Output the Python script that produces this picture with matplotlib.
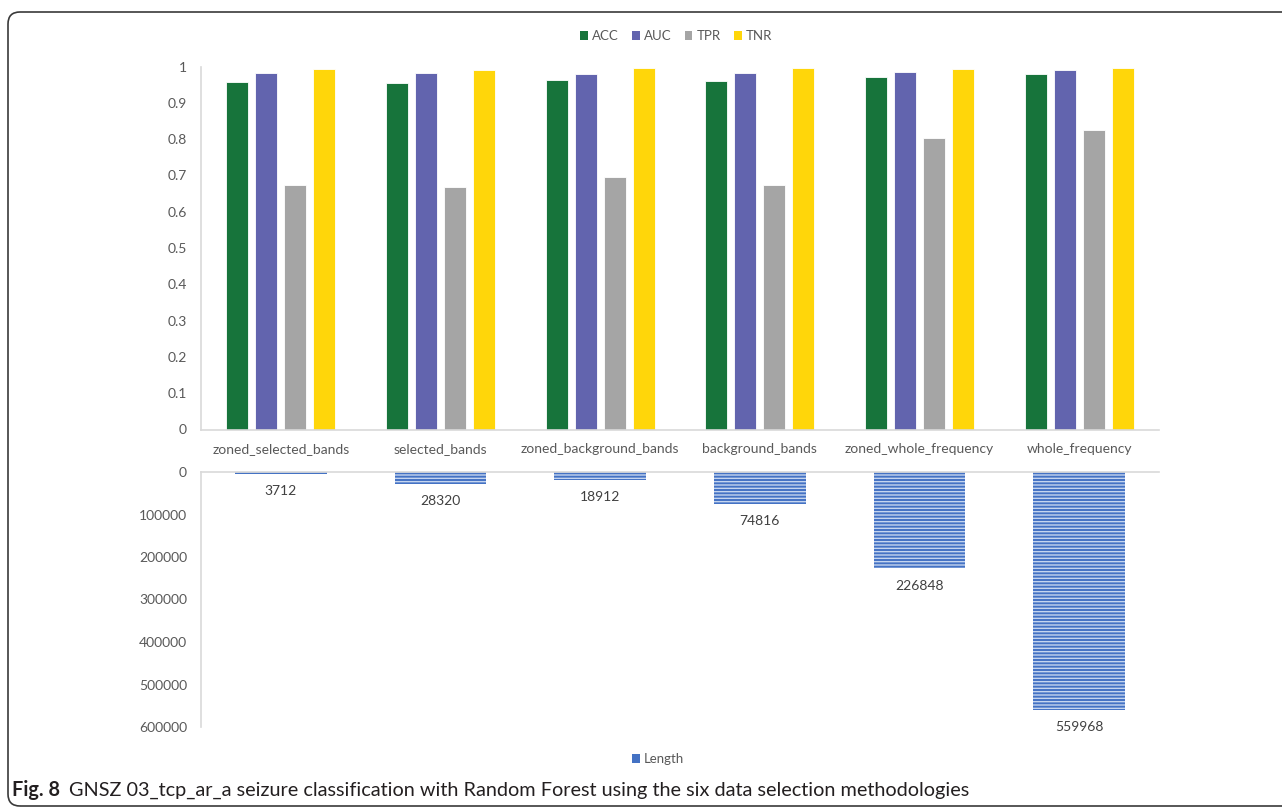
import numpy as np
import matplotlib
matplotlib.use("Agg")
import matplotlib.pyplot as plt
from matplotlib.patches import FancyBboxPatch, Patch
from matplotlib.transforms import IdentityTransform

categories = ["zoned_selected_bands", "selected_bands", "zoned_background_bands",
              "background_bands", "zoned_whole_frequency", "whole_frequency"]
acc = [0.958, 0.955, 0.962, 0.960, 0.971, 0.978]
auc = [0.982, 0.982, 0.979, 0.982, 0.986, 0.990]
tpr = [0.673, 0.668, 0.695, 0.673, 0.803, 0.825]
tnr = [0.993, 0.990, 0.995, 0.995, 0.993, 0.995]
length = [3712, 28320, 18912, 74816, 226848, 559968]
top_ticks = [0, 0.1, 0.2, 0.3, 0.4, 0.5, 0.6, 0.7, 0.8, 0.9, 1]
top_tick_labels = ["0", "0.1", "0.2", "0.3", "0.4", "0.5", "0.6", "0.7", "0.8", "0.9", "1"]
bottom_ticks = [0, 100000, 200000, 300000, 400000, 500000, 600000]
caption_bold = "Fig. 8"
caption_text = "GNSZ 03_tcp_ar_a seizure classification with Random Forest using the six data selection methodologies"

plt.rcParams['font.family'] = ['Lato', 'DejaVu Sans']
plt.rcParams['hatch.linewidth'] = 1.0

W, H = 1282, 810
fig = plt.figure(figsize=(W / 100, H / 100), dpi=100)

axis_col = "#D9D9D9"
txt_col = "#595959"

def fx(px):
    return px / W

def fy(py):
    return 1 - py / H

left, right = fx(201), fx(1159)
ax1 = fig.add_axes([left, fy(429.5), right - left, fy(66.5) - fy(429.5)])
ax2 = fig.add_axes([left, fy(727), right - left, fy(472) - fy(727)])

x = np.arange(len(categories))
series = [("ACC", acc, "#17743B"), ("AUC", auc, "#6264AE"),
          ("TPR", tpr, "#A5A5A5"), ("TNR", tnr, "#FFD60A")]
pitch, bw = 0.182, 0.138
for i, (name, vals, col) in enumerate(series):
    ax1.bar(x + (i - 1.5) * pitch, vals, bw, color=col, edgecolor="white",
            linewidth=0.6, label=name, zorder=2)

ax1.set_xlim(-0.5, len(categories) - 0.5)
ax1.set_ylim(0, 1)
ax1.set_yticks(top_ticks)
ax1.set_yticklabels(top_tick_labels)
ax1.set_xticks(x)
ax1.set_xticklabels(categories)
for s in ["top", "right"]:
    ax1.spines[s].set_visible(False)
for s in ["left", "bottom"]:
    ax1.spines[s].set_color(axis_col)
    ax1.spines[s].set_linewidth(1.2)
ax1.tick_params(axis="both", length=0, colors=txt_col, labelsize=10)
ax1.tick_params(axis="y", pad=10)
ax1.tick_params(axis="x", pad=10)

bars = ax2.bar(x, length, 0.575, color="#4472C4", edgecolor="#C5D5EF",
               linewidth=0, hatch="-----", label="Length", zorder=2)
ax2.set_xlim(-0.5, len(categories) - 0.5)
ax2.set_ylim(600000, 0)
ax2.set_yticks(bottom_ticks)
ax2.set_yticklabels([str(t) for t in bottom_ticks])
ax2.set_xticks([])
for s in ["bottom", "right"]:
    ax2.spines[s].set_visible(False)
for s in ["left", "top"]:
    ax2.spines[s].set_color(axis_col)
    ax2.spines[s].set_linewidth(1.2)
ax2.tick_params(axis="both", length=0, colors=txt_col, labelsize=10)
ax2.tick_params(axis="y", pad=10)
for xi, v in zip(x, length):
    ax2.annotate(str(v), (xi, v), xytext=(0, -12.5), textcoords="offset points",
                 ha="center", va="center", fontsize=10, color="#404040")

handles1 = [Patch(facecolor=c, label=n) for n, _, c in series]
fig.legend(handles=handles1, loc="center", bbox_to_anchor=(fx(676), fy(36)),
           ncol=4, frameon=False, fontsize=9.5, handlelength=0.6, handleheight=0.6,
           handletextpad=0.3, columnspacing=1.0, labelcolor=txt_col)
fig.legend(handles=[Patch(facecolor="#4472C4", label="Length")], loc="center",
           bbox_to_anchor=(fx(658), fy(759)), frameon=False, fontsize=9.5,
           handlelength=0.6, handleheight=0.6, handletextpad=0.3, labelcolor=txt_col)

border = FancyBboxPatch((8, 4), 1320, H - 16, boxstyle="round,pad=0,rounding_size=12",
                        transform=IdentityTransform(), fill=False, edgecolor="#3a3a3a",
                        linewidth=1.2)
fig.patches.append(border)

t1 = fig.text(fx(12), fy(790), caption_bold, fontsize=14.3, fontweight="bold",
              color="#231F20", va="center", ha="left")
fig.canvas.draw()
bb = t1.get_window_extent()
fig.text((bb.x1 + 9) / W, fy(790), caption_text, fontsize=14.3, color="#231F20",
         va="center", ha="left")

fig.savefig("out.png", dpi=100)
